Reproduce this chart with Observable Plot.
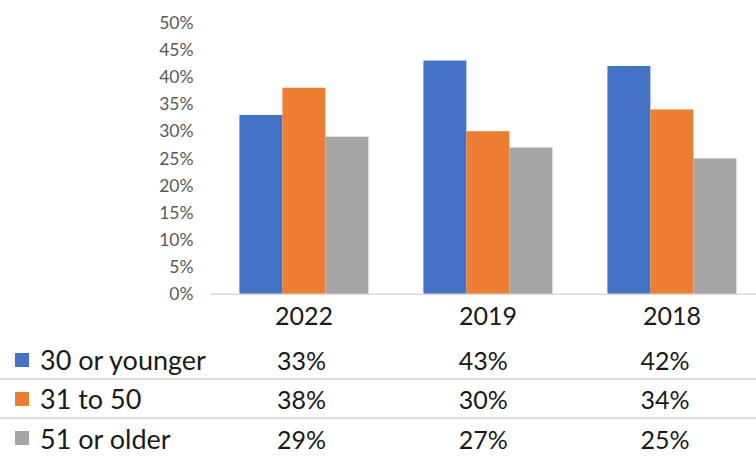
<!DOCTYPE html>
<html>
<head>
<meta charset="utf-8">
<script src="https://cdn.jsdelivr.net/npm/d3@7"></script>
<script src="https://cdn.jsdelivr.net/npm/@observablehq/plot@0.6"></script>
<style>
  html, body { margin: 0; padding: 0; background: #fff; width: 756px; height: 457px; overflow: hidden; }
  #wrap { position: relative; width: 756px; height: 457px; }
  #chart { position: absolute; left: 0; top: 0; }
  #chart svg [aria-label^="fx-axis"] text { font-size: 25px; fill: #1a1a1a; }
  #chart svg [aria-label^="y-axis"] text { fill: #595959; }
  #table { position: absolute; left: 0; top: 341px; border-collapse: collapse; font-family: Lato, sans-serif; font-size: 25px; color: #1a1a1a; table-layout: fixed; }
  #table td { padding: 0; height: 39px; text-align: center; white-space: nowrap; }
  #table td.lab { text-align: left; position: relative; padding-left: 40px; font-size: 27px; }
  #table tr.sep td { border-bottom: 2px solid #dedede; height: 37px; }
  .sw { position: absolute; left: 15px; top: 12px; width: 14px; height: 14px; }
</style>
</head>
<body>
<div id="wrap">
  <div id="chart"></div>
</div>
<script>
const years = ["2022", "2019", "2018"];
const series = ["30 or younger", "31 to 50", "51 or older"];
const young = [33, 43, 42];
const middle = [38, 30, 34];
const older = [29, 27, 25];
const colors = ["#4472C4", "#ED7D31", "#A5A5A5"];
const yTicks = [0, 5, 10, 15, 20, 25, 30, 35, 40, 45, 50];

const valuesBySeries = [young, middle, older];
const data = [];
years.forEach((yr, i) => {
  series.forEach((s, j) => data.push({year: yr, series: s, value: valuesBySeries[j][i]}));
});

const W = 756, H = 340;
const chart = Plot.plot({
  width: W,
  height: H,
  marginLeft: 210.6,
  marginRight: -9,
  marginTop: 22.5,
  marginBottom: 45.7,
  style: {fontFamily: "Lato, sans-serif", fontSize: "17.5px", background: "transparent", overflow: "visible"},
  facet: {data: data, x: "year"},
  fx: {domain: years, paddingInner: 0.2967, paddingOuter: 0.1483, label: null, tickSize: 0, tickPadding: 12},
  x: {domain: series, axis: null, padding: 0},
  y: {domain: [0, 50], ticks: yTicks, tickFormat: d => d + "%", tickSize: 0, tickPadding: 46, label: null},
  color: {domain: series, range: colors},
  marks: [
    Plot.barY(data, {x: "series", y: "value", fill: "series"})
  ]
});
document.getElementById("chart").appendChild(chart);

// baseline across the whole plot area, positioned with Plot's y scale
const y0 = chart.scale("y").apply(0);
d3.select(chart).append("line")
  .attr("x1", 210.6).attr("x2", W)
  .attr("y1", y0).attr("y2", y0)
  .attr("stroke", "#d9d9d9").attr("stroke-width", 1.5);

// data table under the chart
const fx = chart.scale("fx");
const table = document.createElement("table");
table.id = "table";
const colgroup = document.createElement("colgroup");
const c0 = document.createElement("col"); c0.style.width = "210.6px"; colgroup.appendChild(c0);
const step = fx && fx.step ? fx.step : 184.85;
years.forEach(() => { const c = document.createElement("col"); c.style.width = step + "px"; colgroup.appendChild(c); });
table.appendChild(colgroup);
series.forEach((s, j) => {
  const tr = document.createElement("tr");
  if (j < series.length - 1) tr.className = "sep";
  const td = document.createElement("td");
  td.className = "lab";
  const sw = document.createElement("span");
  sw.className = "sw";
  sw.style.background = colors[j];
  td.appendChild(sw);
  td.appendChild(document.createTextNode(s));
  tr.appendChild(td);
  valuesBySeries[j].forEach(v => {
    const c = document.createElement("td");
    c.textContent = v + "%";
    tr.appendChild(c);
  });
  table.appendChild(tr);
});
document.getElementById("wrap").appendChild(table);
</script>
</body>
</html>
